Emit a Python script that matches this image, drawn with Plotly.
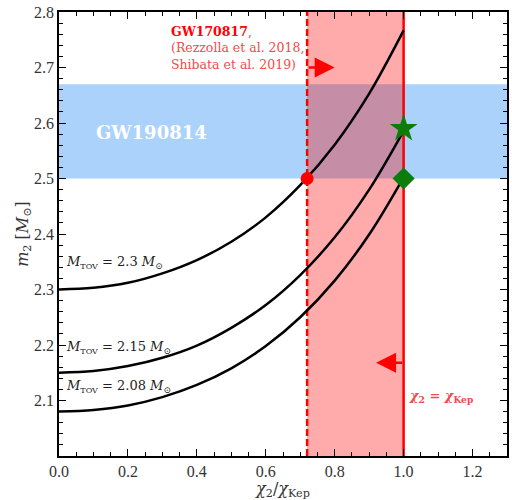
import plotly.graph_objects as go

# ---- data ----
chi_ratio = [0.0, 0.1, 0.2, 0.3, 0.4, 0.5, 0.6, 0.7, 0.8, 0.9, 1.0]
m2_tov_230 = [2.300, 2.303, 2.312, 2.329, 2.353, 2.386, 2.430, 2.488, 2.561, 2.653, 2.767]
m2_tov_215 = [2.150, 2.153, 2.162, 2.177, 2.199, 2.231, 2.272, 2.326, 2.394, 2.480, 2.586]
m2_tov_208 = [2.080, 2.083, 2.091, 2.106, 2.128, 2.158, 2.198, 2.250, 2.316, 2.399, 2.502]
curve_labels = ["2.3", "2.15", "2.08"]
label_y = [2.348, 2.195, 2.126]

gw190814_band = [2.50, 2.67]
gw170817_chi_min = 0.72
chi_kep = 1.0
circle_pt = (0.72, 2.50)
star_pt = (1.0, 2.59)
diamond_pt = (1.0, 2.50)

x_ticks = [0.0, 0.2, 0.4, 0.6, 0.8, 1.0, 1.2]
y_ticks = [2.1, 2.2, 2.3, 2.4, 2.5, 2.6, 2.7, 2.8]

FONT = "Liberation Serif"
WFONT = "DejaVu Serif"
RED = "#ff0000"

fig = go.Figure()

for ys in (m2_tov_230, m2_tov_215, m2_tov_208):
    fig.add_trace(go.Scatter(x=chi_ratio, y=ys, mode="lines",
                             line=dict(color="black", width=2.5, shape="spline"),
                             showlegend=False, hoverinfo="skip"))

fig.add_trace(go.Scatter(x=[circle_pt[0]], y=[circle_pt[1]], mode="markers",
                         marker=dict(symbol="circle", size=13, color=RED),
                         showlegend=False))
fig.add_trace(go.Scatter(x=[star_pt[0]], y=[star_pt[1]], mode="markers",
                         marker=dict(symbol="star", size=21, color="#0a7d0a"),
                         showlegend=False))
fig.add_trace(go.Scatter(x=[diamond_pt[0]], y=[diamond_pt[1]], mode="markers",
                         marker=dict(symbol="diamond", size=17, color="#0a7d0a"),
                         showlegend=False))

shapes = [
    dict(type="rect", xref="paper", x0=0, x1=1, yref="y",
         y0=gw190814_band[0], y1=gw190814_band[1],
         fillcolor="rgb(170,210,250)", line=dict(width=0), layer="below"),
    dict(type="rect", xref="x", x0=gw170817_chi_min, x1=chi_kep, yref="paper", y0=0, y1=1,
         fillcolor="rgba(255,0,0,0.33)", line=dict(width=0), layer="below"),
    dict(type="line", xref="x", x0=gw170817_chi_min, x1=gw170817_chi_min, yref="paper", y0=0, y1=1,
         line=dict(color=RED, width=2.5, dash="7px,3px"), layer="below"),
    dict(type="line", xref="x", x0=chi_kep, x1=chi_kep, yref="paper", y0=0, y1=1,
         line=dict(color=RED, width=2.5), layer="below"),
]

annotations = []
for lab, yl in zip(curve_labels, label_y):
    annotations.append(dict(
        x=0.015, y=yl, xref="x", yref="y", xanchor="left", yanchor="middle", showarrow=False,
        text=f"<i>M</i><sub><span style='font-size:8px'>TOV</span></sub> = {lab} <i>M</i><sub>⊙</sub>",
        font=dict(family=WFONT, size=13, color="#222")))

annotations += [
    dict(x=0.32, y=2.782, xref="x", yref="y", xanchor="left", yanchor="top", showarrow=False,
         align="left",
         text="<b><span style='color:#ff0000'>GW170817</span></b>,<br>(Rezzolla et al. 2018,<br>Shibata et al. 2019)",
         font=dict(family=WFONT, size=12.5, color="#f24a4a")),
    dict(x=0.268, y=2.582, xref="x", yref="y", xanchor="center", yanchor="middle", showarrow=False,
         text="<b>GW190814</b>", font=dict(family=WFONT, size=18, color="white")),
    dict(x=1.01, y=2.107, xref="x", yref="y", xanchor="left", yanchor="middle", showarrow=False,
         text="<b><i>χ</i><sub>2</sub> = <i>χ</i><sub>Kep</sub></b>",
         font=dict(family=WFONT, size=13, color="#f24a4a")),
    dict(x=0.80, y=2.70, ax=0.72, ay=2.70, xref="x", yref="y", axref="x", ayref="y",
         showarrow=True, arrowhead=2, arrowsize=1.6, arrowwidth=2.5, arrowcolor=RED, text=""),
    dict(x=0.92, y=2.168, ax=1.0, ay=2.168, xref="x", yref="y", axref="x", ayref="y",
         showarrow=True, arrowhead=2, arrowsize=1.6, arrowwidth=2.5, arrowcolor=RED, text=""),
]

axis_common = dict(
    showgrid=False, zeroline=False, showline=True, linecolor="black", linewidth=1.5,
    mirror="allticks", ticks="inside", ticklen=7, tickwidth=1, tickcolor="black",
    tickfont=dict(family=FONT, size=16, color="#333"), automargin=False,
)

fig.update_layout(
    width=512, height=500,
    margin=dict(l=59, r=5, t=12, b=44),
    plot_bgcolor="white", paper_bgcolor="white",
    shapes=shapes, annotations=annotations,
    xaxis=dict(range=[0, 1.3], tickvals=x_ticks, ticktext=[f"{v:.1f}" for v in x_ticks],
               minor=dict(dtick=0.05, tick0=0, ticks="inside", ticklen=4, tickcolor="black"),
               title=dict(text="<i>χ</i><sub>2</sub>/<i>χ</i><sub>Kep</sub>",
                          font=dict(family=WFONT, size=16, color="#333"), standoff=0),
               **axis_common),
    yaxis=dict(range=[2.0, 2.8], tickvals=y_ticks, ticktext=[f"{v:.1f}" for v in y_ticks],
               minor=dict(dtick=0.02, tick0=2.0, ticks="inside", ticklen=4, tickcolor="black"),
               title=dict(text="<i>m</i><sub>2</sub> [<i>M</i><sub>⊙</sub>]",
                          font=dict(family=WFONT, size=16, color="#333"), standoff=0),
               **axis_common),
)

fig.write_html("out.html", config={"displayModeBar": False},
               post_script="document.body.style.margin='0px';")
